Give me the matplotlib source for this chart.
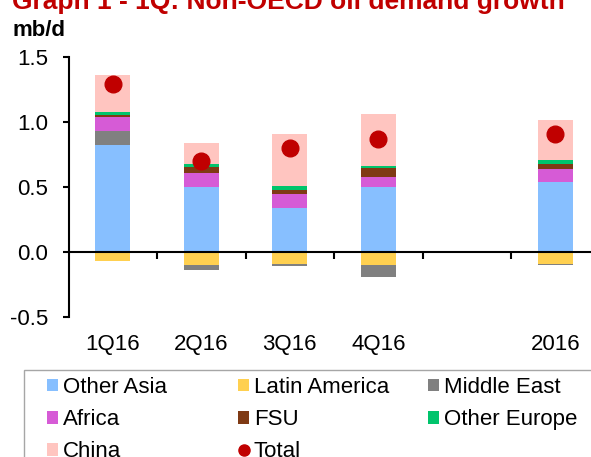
import numpy as np
import matplotlib
matplotlib.use('Agg')
import matplotlib.pyplot as plt
from matplotlib.patches import Patch, Rectangle
from matplotlib.lines import Line2D

plt.rcParams['font.family'] = ['Liberation Sans', 'DejaVu Sans']

# growth by region, mb/d (blank slot between 4Q16 and the annual bar)
periods = ['1Q16', '2Q16', '3Q16', '4Q16', '', '2016']
other_asia = [0.82, 0.50, 0.34, 0.50, 0, 0.54]
latin_america = [-0.07, -0.10, -0.09, -0.10, 0, -0.09]
middle_east = [0.11, -0.04, -0.02, -0.09, 0, -0.01]
africa = [0.11, 0.11, 0.11, 0.08, 0, 0.10]
fsu = [0.015, 0.045, 0.03, 0.065, 0, 0.04]
other_europe = [0.025, 0.025, 0.025, 0.02, 0, 0.025]
china = [0.28, 0.16, 0.40, 0.40, 0, 0.31]
total = [1.29, 0.70, 0.80, 0.87, np.nan, 0.91]

series = [
    ('Other Asia', other_asia, '#87BFFF'),
    ('Latin America', latin_america, '#FFD050'),
    ('Middle East', middle_east, '#808080'),
    ('Africa', africa, '#D65BD6'),
    ('FSU', fsu, '#7F3A14'),
    ('Other Europe', other_europe, '#00C46C'),
    ('China', china, '#FFC5C0'),
]
colors = {name: c for name, _, c in series}

fig = plt.figure(figsize=(5.91, 4.57), dpi=100)
ax = fig.add_axes([68.5 / 591, 1 - 317 / 457, 531 / 591, 260 / 457])

x = np.arange(len(periods))
pos_base = np.zeros(len(x))
neg_base = np.zeros(len(x))
# positive parts stack upward in list order, negative parts downward
for name, vals, col in series:
    vals = np.array(vals, dtype=float)
    pos = np.where(vals > 0, vals, 0)
    neg = np.where(vals < 0, vals, 0)
    ax.bar(x, pos, 0.4, bottom=pos_base, color=col, zorder=2)
    ax.bar(x, neg, 0.4, bottom=neg_base, color=col, zorder=2)
    pos_base += pos
    neg_base += neg

ax.plot(x, total, 'o', color='#C00000', markersize=12, zorder=3)

ax.set_xlim(-0.5, 5.5)
ax.set_ylim(-0.5, 1.5)
ax.set_yticks([-0.5, 0, 0.5, 1.0, 1.5])
ax.set_yticklabels(['-0.5', '0.0', '0.5', '1.0', '1.5'])
ax.set_xticks(np.arange(0.5, 6, 1))
ax.set_xticklabels([])
ax.tick_params(axis='y', direction='out', length=4.5, width=1.5, labelsize=16, pad=10)
ax.tick_params(axis='x', direction='out', length=5, width=1.5)
ax.spines['bottom'].set_position(('data', 0))
ax.spines['bottom'].set_linewidth(1.5)
ax.spines['left'].set_linewidth(1.5)
ax.spines['top'].set_visible(False)
ax.spines['right'].set_visible(False)
for i, p in enumerate(periods):
    ax.text(i, -0.715, p, ha='center', va='center', fontsize=16)

fig.text(12 / 591, 1 - 9 / 457, 'Graph 1 - 1Q: Non-OECD oil demand growth',
         color='#C00000', fontsize=19, fontweight='bold', va='baseline')
fig.text(13 / 591, 1 - 30 / 457, 'mb/d', fontsize=16, fontweight='bold', va='center')

# legend frame and three columns
fig.patches.append(Rectangle((24 / 591, -0.1), 0.98, 1 - 370 / 457 + 0.1,
                             transform=fig.transFigure, fill=False,
                             edgecolor='#A6A6A6', linewidth=1))

def sq(name):
    return Patch(facecolor=colors[name], edgecolor='none')

total_h = Line2D([], [], marker='o', color='#C00000', linestyle='none', markersize=8)
columns = [
    (47, [sq('Other Asia'), sq('Africa'), sq('China')], ['Other Asia', 'Africa', 'China']),
    (238, [sq('Latin America'), sq('FSU'), total_h], ['Latin America', 'FSU', 'Total']),
    (428, [sq('Middle East'), sq('Other Europe')], ['Middle East', 'Other Europe']),
]
for xpix, handles, labels in columns:
    fig.legend(handles, labels, loc='upper left',
               bbox_to_anchor=(xpix / 591, 1 - 377 / 457),
               frameon=False, fontsize=16, handlelength=0.5,
               handleheight=0.5, handletextpad=0.22, labelspacing=0.5,
               borderpad=0, borderaxespad=0)

fig.savefig('out.png', dpi=100)
